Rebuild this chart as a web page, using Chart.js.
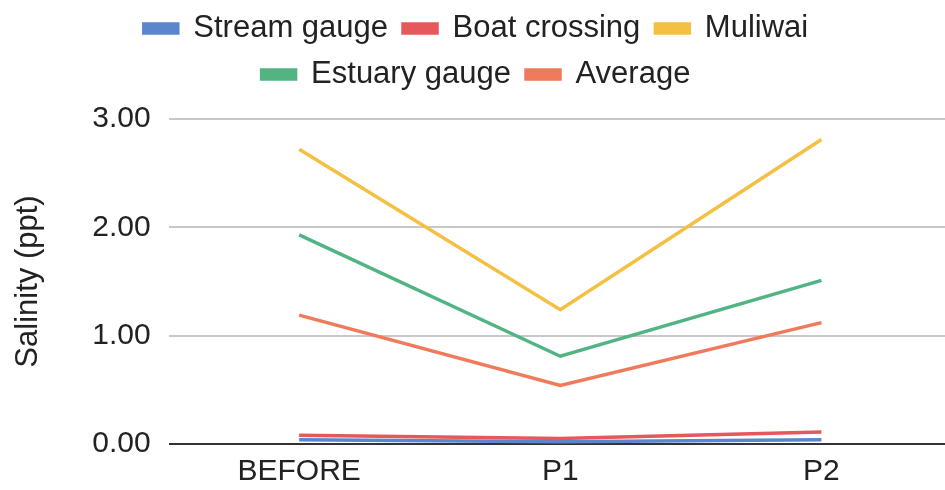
<!DOCTYPE html>
<html><head><meta charset="utf-8">
<script src="https://cdn.jsdelivr.net/npm/chart.js@4/dist/chart.umd.min.js"></script>
<style>html,body{margin:0;padding:0;background:#fff;overflow:hidden;width:945px;height:490px}#wrap{width:952px;height:490px;position:relative}</style>
</head><body><div id="wrap"><canvas id="c"></canvas></div>
<script>
const categories = ["BEFORE", "P1", "P2"];
const streamGauge = [0.04, 0.02, 0.04];
const boatCrossing = [0.08, 0.05, 0.11];
const muliwai = [2.72, 1.24, 2.81];
const estuaryGauge = [1.93, 0.81, 1.51];
const average = [1.19, 0.54, 1.12];
const yTicks = [0, 1, 2, 3];
const seriesNames = ["Stream gauge", "Boat crossing", "Muliwai", "Estuary gauge", "Average"];
const colors = ["#5a86cf", "#e5585c", "#f5bf42", "#52b483", "#ef7a5c"];
const seriesData = [streamGauge, boatCrossing, muliwai, estuaryGauge, average];
const FONT = "'Liberation Sans', Arial, sans-serif";
const legendMargin = {
  id: 'legendMargin',
  beforeInit(chart) {
    const origFit = chart.legend.fit;
    chart.legend.fit = function () { origFit.bind(chart.legend)(); this.height += 19; };
  }
};
new Chart(document.getElementById('c'), {
  type: 'line',
  data: {
    labels: categories,
    datasets: seriesNames.map((n, i) => ({
      label: n, data: seriesData[i], borderColor: colors[i], backgroundColor: colors[i],
      borderWidth: 3.5, pointRadius: 0, tension: 0, order: 4 - i
    }))
  },
  plugins: [legendMargin],
  options: {
    responsive: true, maintainAspectRatio: false, animation: false,
    layout: { padding: { left: 0, right: 0, top: -2, bottom: -10 } },
    plugins: {
      tooltip: { enabled: false },
      legend: {
        position: 'top',
        labels: { font: { family: FONT, size: 31 }, color: '#222', boxWidth: 34, boxHeight: 9, padding: 15,
          sort: (a, b) => a.datasetIndex - b.datasetIndex }
      }
    },
    scales: {
      x: {
        offset: true,
        grid: { display: false, drawTicks: false },
        border: { display: false },
        ticks: { font: { family: FONT, size: 30 }, color: '#222', padding: 10 }
      },
      y: {
        min: 0, max: 3,
        afterBuildTicks: ax => { ax.ticks = yTicks.map(v => ({ value: v })); },
        grid: {
          color: ctx => ctx.tick && ctx.tick.value === 0 ? '#333' : '#c8c8c8',
          lineWidth: 2, drawTicks: false
        },
        border: { display: false },
        ticks: { font: { family: FONT, size: 30 }, color: '#222', padding: 18, callback: v => Number(v).toFixed(2) },
        title: { display: true, text: 'Salinity (ppt)', font: { family: FONT, size: 31 }, color: '#222', padding: { top: 10, bottom: 27 } }
      }
    }
  }
});
</script></body></html>
